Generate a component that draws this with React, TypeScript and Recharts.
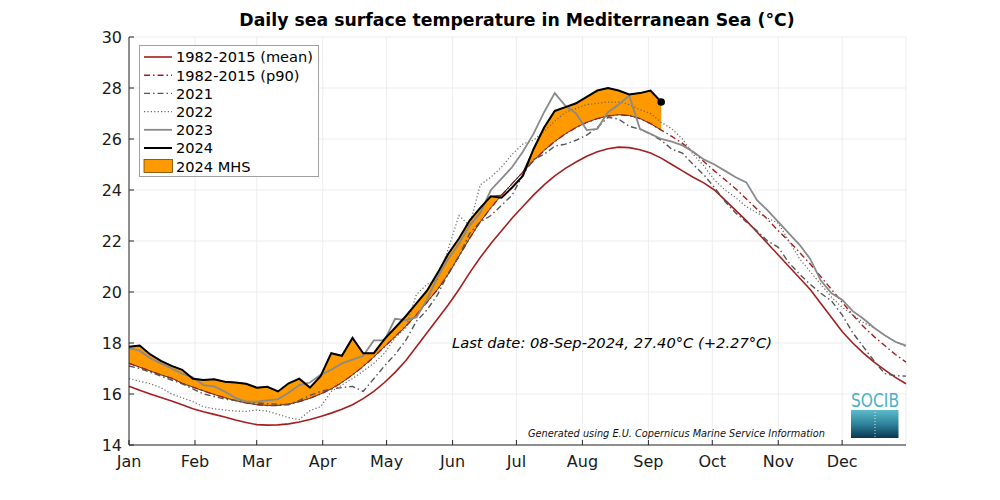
import React from 'react';
import { ComposedChart, Line, Area, XAxis, YAxis, CartesianGrid } from 'recharts';

// day of year (2024, leap year), sampled every 5 days
const days = [
  1, 6, 11, 16, 21, 26, 31, 36, 41, 46, 51, 56, 61, 66, 71, 76, 81, 86, 91, 96,
  101, 106, 111, 116, 121, 126, 131, 136, 141, 146, 151, 156, 161, 166, 171, 176, 181, 186, 191, 196,
  201, 206, 211, 216, 221, 226, 231, 236, 241, 246, 251, 256, 261, 266, 271, 276, 281, 286, 291, 296,
  301, 306, 311, 316, 321, 326, 331, 336, 341, 346, 351, 356, 361, 366,
];

const monthTicks = [1, 32, 61, 92, 122, 153, 183, 214, 245, 275, 306, 336];
const monthLabels = ['Jan', 'Feb', 'Mar', 'Apr', 'May', 'Jun', 'Jul', 'Aug', 'Sep', 'Oct', 'Nov', 'Dec'];
const tempTicks = [14, 16, 18, 20, 22, 24, 26, 28, 30];

const climMean = [
  16.3, 16.15, 16.0, 15.86, 15.73, 15.58, 15.42, 15.3, 15.2, 15.1, 14.98, 14.88, 14.8, 14.78, 14.79, 14.83, 14.9, 15.0, 15.12, 15.25,
  15.4, 15.58, 15.82, 16.1, 16.45, 16.85, 17.3, 17.85, 18.4, 18.95, 19.5, 20.1, 20.75, 21.35, 21.9, 22.4, 22.9, 23.35, 23.8, 24.2,
  24.55, 24.85, 25.1, 25.32, 25.5, 25.62, 25.68, 25.66, 25.58, 25.45, 25.25, 25.0, 24.75, 24.5, 24.28, 24.0, 23.6, 23.2, 22.8, 22.35,
  21.9, 21.45, 21.0, 20.55, 20.1, 19.55, 19.0, 18.45, 18.0, 17.6, 17.25, 16.95, 16.65, 16.4,
];

const climP90 = [
  17.2, 17.05, 16.9, 16.75, 16.62, 16.42, 16.27, 16.12, 15.98, 15.85, 15.74, 15.65, 15.58, 15.55, 15.55, 15.6, 15.7, 15.83, 16.0, 16.2,
  16.45, 16.75, 17.08, 17.45, 17.85, 18.25, 18.65, 19.1, 19.6, 20.1, 20.7, 21.4, 22.1, 22.75, 23.3, 23.8, 24.25, 24.7, 25.15, 25.55,
  25.9, 26.2, 26.45, 26.65, 26.8, 26.9, 26.95, 26.92, 26.8, 26.6, 26.35, 26.1, 25.83, 25.5, 25.12, 24.75, 24.4, 24.05, 23.65, 23.25,
  22.85, 22.4, 22.0, 21.55, 21.1, 20.6, 20.1, 19.6, 19.1, 18.65, 18.25, 17.9, 17.55, 17.25,
];

const sst2021 = [
  17.1, 17.0, 16.85, 16.7, 16.55, 16.4, 16.2, 16.0, 15.9, 15.8, 15.75, 15.7, 15.65, 15.62, 15.6, 15.58, 15.75, 15.95, 16.1, 16.2,
  16.25, 16.3, 16.1, 16.6, 17.1, 17.55, 18.1, 18.85, 19.3, 19.9, 20.75, 21.4, 22.3, 22.75, 23.0, 23.4, 23.8, 24.6, 25.2, 25.4,
  25.72, 25.8, 25.95, 26.15, 26.45, 26.85, 26.78, 26.5, 26.38, 26.2, 25.95, 25.6, 25.45, 25.0, 24.6, 24.1, 23.55, 23.1, 22.75, 22.4,
  22.0, 21.75, 21.15, 20.7, 20.3, 19.95, 19.65, 19.1, 18.4, 17.85, 17.3, 16.8, 16.72, 16.7,
];

const sst2022 = [
  16.6, 16.5, 16.4, 16.25, 16.0, 15.85, 15.7, 15.5, 15.42, 15.37, 15.33, 15.32, 15.37, 15.33, 15.2, 15.07, 15.0, 15.35, 15.5, 16.1,
  16.35, 16.6, 16.9, 17.2, 17.6, 18.2, 18.6, 19.9, 20.3, 20.5, 21.7, 23.0, 22.6, 24.2, 24.5, 24.9, 25.4, 25.8, 25.95, 26.3,
  26.7, 27.05, 27.2, 27.35, 27.4, 27.45, 27.45, 27.35, 27.15, 27.0, 26.65, 26.4, 26.0, 25.4, 24.95, 24.4, 24.0, 23.7, 23.35, 23.1,
  22.9, 22.7, 22.0, 21.3, 20.8, 20.3, 19.8, 19.4, 19.1, 18.8, 18.6, 18.3, 18.05, 17.85,
];

const sst2023 = [
  17.8, 17.7, 17.4, 17.2, 17.0, 16.8, 16.65, 16.35, 16.3, 16.1, 15.85, 15.7, 15.7, 15.75, 15.8, 16.05, 16.35, 16.45, 16.75, 16.95,
  17.2, 17.35, 17.5, 18.1, 18.1, 18.95, 18.9, 19.0, 19.7, 20.6, 21.3, 21.9, 22.6, 23.1, 24.0, 24.45, 24.9, 25.5, 26.2, 27.05,
  27.8, 27.3, 27.0, 26.35, 26.4, 27.05, 27.35, 27.7, 26.4, 26.2, 26.0, 25.9, 25.75, 25.5, 25.2, 25.0, 24.75, 24.5, 24.3, 23.6,
  23.2, 22.75, 22.3, 21.85, 21.3, 20.45, 19.95, 19.7, 19.25, 18.95, 18.6, 18.3, 18.05, 17.9,
];

// 2024 runs up to the last date (08-Sep)
const sst2024 = [
  17.85, 17.9, 17.55, 17.3, 17.1, 16.95, 16.6, 16.55, 16.58, 16.48, 16.45, 16.4, 16.25, 16.28, 16.1, 16.42, 16.6, 16.25, 16.7, 17.6,
  17.5, 18.2, 17.6, 17.6, 18.15, 18.6, 19.05, 19.55, 20.05, 20.75, 21.5, 22.1, 22.8, 23.3, 23.75, 23.7, 24.1, 24.55, 25.6, 26.45,
  27.1, 27.25, 27.4, 27.65, 27.9, 28.0, 27.9, 27.75, 27.8, 27.9, 27.45,
];

const rows = days.map((day, i) => {
  const has24 = i < sst2024.length;
  return {
    day,
    mean: climMean[i],
    p90: climP90[i],
    y2021: sst2021[i],
    y2022: sst2022[i],
    y2023: sst2023[i],
    y2024: has24 ? sst2024[i] : null,
    mhs: has24 ? [climP90[i], Math.max(climP90[i], sst2024[i])] : null,
  };
});

const RED = '#a31f1f';
const ORANGE = '#ff9900';
const FONT = 'DejaVu Sans, Verdana, sans-serif';

const legendItems = [
  { label: '1982-2015 (mean)', color: RED, dash: undefined, width: 1.6 },
  { label: '1982-2015 (p90)', color: RED, dash: '6 3 1.5 3', width: 1.4 },
  { label: '2021', color: '#555555', dash: '6 3 1.5 3', width: 1.4 },
  { label: '2022', color: '#666666', dash: '1.2 2.2', width: 1.2 },
  { label: '2023', color: '#8a8a8a', dash: undefined, width: 1.8 },
  { label: '2024', color: '#000000', dash: undefined, width: 2 },
];

const lastIdx = sst2024.length - 1;

const LastDot = (props: any) => {
  if (props.index !== lastIdx) return <g key={`d${props.index}`} />;
  return <circle key="last" cx={props.cx} cy={props.cy} r={3.8} fill="#000" />;
};

export default function App() {
  return (
    <div style={{ position: 'absolute', left: 0, top: 0, width: 1000, height: 500, background: '#fff' }}>
      <ComposedChart
        width={1000}
        height={500}
        data={rows}
        margin={{ top: 37, right: 94, bottom: 25, left: 0 }}
      >
        <CartesianGrid stroke="#e8e8e8" strokeWidth={0.8} />
        <XAxis
          dataKey="day"
          type="number"
          domain={[1, 366]}
          ticks={monthTicks}
          interval={0}
          tickFormatter={(d: number) => monthLabels[monthTicks.indexOf(d)]}
          tick={{ fill: '#1a1a1a', fontSize: 16, fontFamily: FONT }}
          tickSize={-5}
          tickMargin={16}
          stroke="#262626"
          height={30}
        />
        <XAxis
          xAxisId="top"
          orientation="top"
          type="number"
          domain={[1, 366]}
          ticks={monthTicks}
          interval={0}
          tick={false}
          tickSize={-5}
          stroke="#262626"
          height={0}
        />
        <YAxis
          type="number"
          domain={[14, 30]}
          ticks={tempTicks}
          interval={0}
          tick={{ fill: '#1a1a1a', fontSize: 16, fontFamily: FONT }}
          tickSize={-5}
          tickMargin={12}
          stroke="#262626"
          width={129}
        />
        <YAxis
          yAxisId="right"
          orientation="right"
          type="number"
          domain={[14, 30]}
          ticks={tempTicks}
          interval={0}
          tick={false}
          tickSize={-5}
          stroke="#262626"
          width={0}
        />
        <Area
          dataKey="mhs"
          fill={ORANGE}
          fillOpacity={1}
          stroke="#000"
          strokeWidth={0.7}
          type="linear"
          isAnimationActive={false}
          dot={false}
          activeDot={false}
        />
        <Line dataKey="mean" stroke={RED} strokeWidth={1.6} dot={false} type="linear" isAnimationActive={false} />
        <Line dataKey="p90" stroke={RED} strokeWidth={1.4} strokeDasharray="6 3 1.5 3" dot={false} type="linear" isAnimationActive={false} />
        <Line dataKey="y2021" stroke="#555555" strokeWidth={1.4} strokeDasharray="6 3 1.5 3" dot={false} type="linear" isAnimationActive={false} />
        <Line dataKey="y2022" stroke="#666666" strokeWidth={1.2} strokeDasharray="1.2 2.2" dot={false} type="linear" isAnimationActive={false} />
        <Line dataKey="y2023" stroke="#8a8a8a" strokeWidth={1.8} dot={false} type="linear" isAnimationActive={false} />
        <Line dataKey="y2024" stroke="#000" strokeWidth={2} dot={LastDot} activeDot={false} type="linear" isAnimationActive={false} />
      </ComposedChart>

      <svg
        width={1000}
        height={500}
        style={{ position: 'absolute', left: 0, top: 0, pointerEvents: 'none' }}
        fontFamily={FONT}
      >
        <text x={517} y={26} textAnchor="middle" fontSize={17.3} fontWeight="bold" fill="#000">
          Daily sea surface temperature in Mediterranean Sea (°C)
        </text>

        <g>
          <rect x={139.5} y={45.5} width={179} height={131} fill="#fff" stroke="#a0a0a0" strokeWidth={1} />
          {legendItems.map((it, i) => {
            const cy = 57 + i * 18.2;
            return (
              <g key={it.label}>
                <line x1={144} x2={172} y1={cy} y2={cy} stroke={it.color} strokeWidth={it.width} strokeDasharray={it.dash} />
                <text x={176} y={cy + 5.3} fontSize={14.6} fill="#000">{it.label}</text>
              </g>
            );
          })}
          <rect x={144} y={159.5} width={28.5} height={13} fill={ORANGE} stroke="#6b4a00" strokeWidth={0.8} />
          <text x={176} y={166.2 + 5.3} fontSize={14.6} fill="#000">2024 MHS</text>
        </g>

        <text x={452} y={348} fontSize={14.7} fontStyle="italic" fill="#000">
          Last date: 08-Sep-2024, 27.40°C (+2.27°C)
        </text>

        <text x={528} y={436.5} fontSize={10.5} fontStyle="italic" fill="#111" textLength={297} lengthAdjust="spacingAndGlyphs">
          Generated using E.U. Copernicus Marine Service Information
        </text>

        <defs>
          <linearGradient id="socibGrad" x1="0" y1="0" x2="0" y2="1">
            <stop offset="0%" stopColor="#5cbccb" />
            <stop offset="55%" stopColor="#2a7d96" />
            <stop offset="100%" stopColor="#0c3550" />
          </linearGradient>
        </defs>
        <text x={851} y={407} fontSize={20} fill="#47b4c8" textLength={48} lengthAdjust="spacingAndGlyphs">
          SOCIB
        </text>
        <rect x={851} y={410} width={47.5} height={28} fill="url(#socibGrad)" />
        <line x1={875} x2={875} y1={412} y2={437} stroke="#ffffff" strokeWidth={1} strokeDasharray="1 2" opacity={0.8} />
      </svg>
    </div>
  );
}
